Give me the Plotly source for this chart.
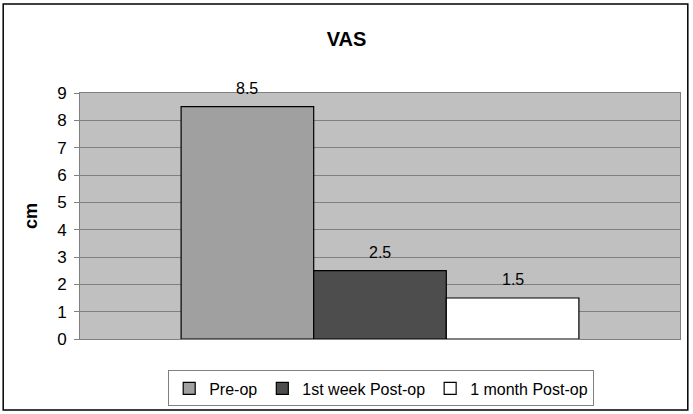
import plotly.graph_objects as go

series = ["Pre-op", "1st week Post-op", "1 month Post-op"]
values = [8.5, 2.5, 1.5]
colors = ["#A0A0A0", "#4D4D4D", "#FFFFFF"]
category = ["VAS"]
yticks = list(range(0, 10))

FONT = "Liberation Sans, Arial"
PLOT_W = 600
BARGAP = 0.337

fig = go.Figure()
for name, v, c in zip(series, values, colors):
    fig.add_trace(go.Bar(
        x=category, y=[v], name=name,
        marker=dict(color=c, line=dict(color="#000000", width=1.2)),
    ))

bar_px = PLOT_W * (1 - BARGAP) / len(series)
for i, v in enumerate(values):
    fig.add_annotation(
        x=category[0], y=v, xref="x", yref="y", text=f"{v}", showarrow=False,
        yanchor="bottom", yshift=8, xshift=(i - (len(series) - 1) / 2) * bar_px,
        font=dict(family=FONT, size=16, color="#000000"),
    )

fig.update_layout(
    width=693, height=414,
    margin=dict(l=80, r=13, t=93, b=75, autoexpand=False),
    paper_bgcolor="#FFFFFF",
    plot_bgcolor="#C0C0C0",
    barmode="group", bargap=BARGAP, bargroupgap=0,
    title=dict(text="<b>VAS</b>", x=0.5, xanchor="center", y=0.905, yanchor="middle",
               font=dict(family=FONT, size=20, color="#000000")),
    font=dict(family=FONT, size=17, color="#000000"),
    showlegend=True,
    legend=dict(orientation="h", x=0.502, xanchor="center", y=-0.128, yanchor="top",
                bordercolor="#808080", borderwidth=1, bgcolor="#FFFFFF",
                font=dict(family=FONT, size=16, color="#000000"),
                itemwidth=30, traceorder="normal", tracegroupgap=0),
    xaxis=dict(type="category", range=[-0.5, 0.5], autorange=False,
               showticklabels=False, showgrid=False, ticks="", zeroline=False,
               showline=True, linecolor="#808080", mirror=True, linewidth=1),
    yaxis=dict(range=[0, 9], tickvals=yticks, ticks="outside", ticklen=5, tickcolor="#808080",
               showgrid=True, gridcolor="#808080", gridwidth=1, zeroline=False,
               showline=True, linecolor="#808080", mirror=True, linewidth=1,
               ticklabelstandoff=4,
               title=dict(text="<b>cm</b>", standoff=14,
                          font=dict(family=FONT, size=18)),
               tickfont=dict(family=FONT, size=17)),
    shapes=[dict(type="rect", xref="paper", yref="paper",
                 x0=-0.128, x1=1.013, y0=-0.289, y1=1.362,
                 line=dict(color="#000000", width=1.5))],
)

fig.write_html("out.html", config={"displayModeBar": False})

with open("out.html", "r", encoding="utf-8") as f:
    html = f.read()
html = html.replace("<head>", "<head><style>html,body{margin:0;padding:0;overflow:hidden}</style>", 1)
with open("out.html", "w", encoding="utf-8") as f:
    f.write(html)
